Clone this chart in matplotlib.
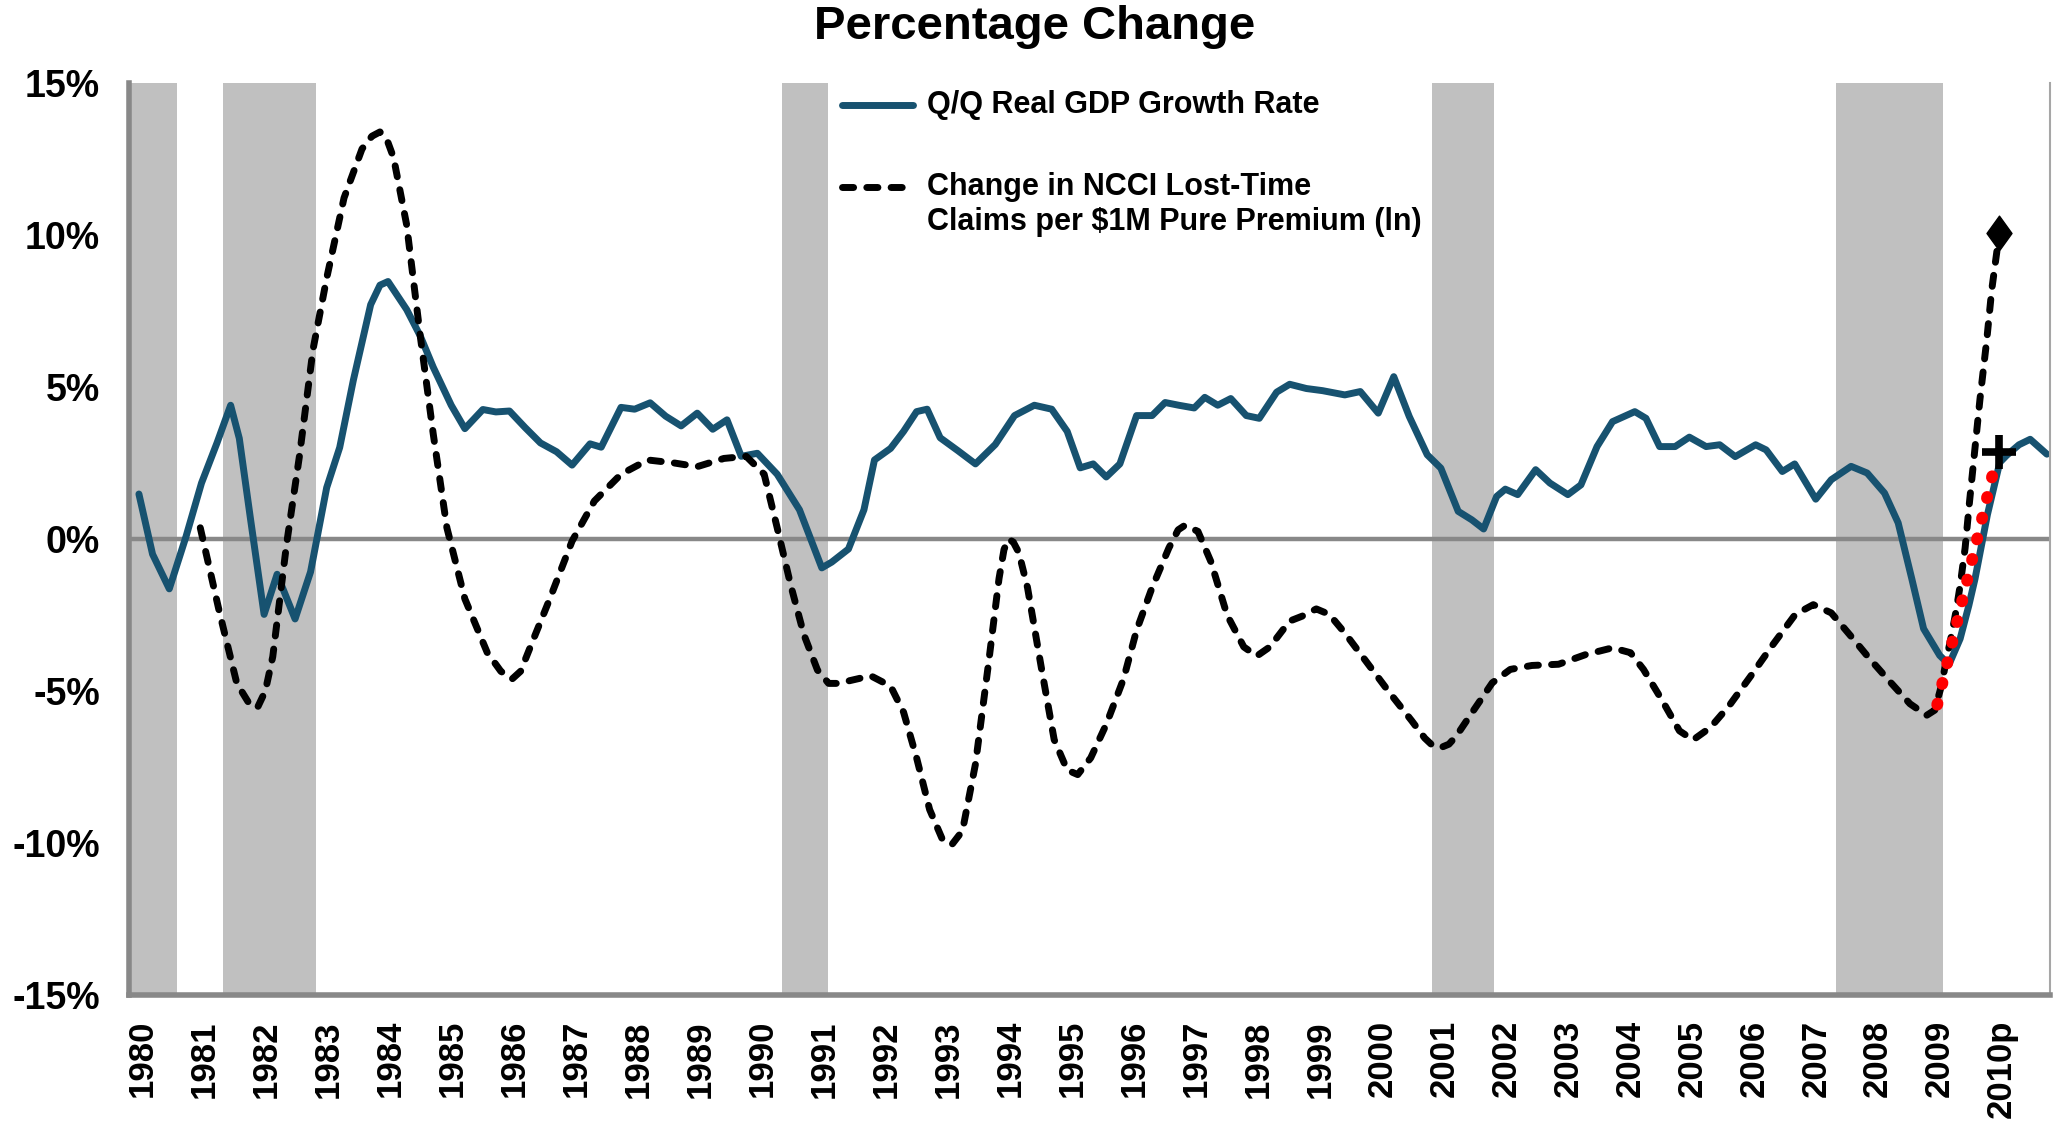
import numpy as np
import matplotlib
matplotlib.use("Agg")
import matplotlib.pyplot as plt
from matplotlib.path import Path

plt.rcParams['font.family'] = ['Liberation Sans', 'DejaVu Sans']
plt.rcParams['font.weight'] = 'bold'

# Q/Q real GDP growth (%)
gdp_x = [1980.16, 1980.38, 1980.65, 1980.92, 1981.17, 1981.42, 1981.64, 1981.78, 1981.96,
         1982.18, 1982.39, 1982.68, 1982.93, 1983.19, 1983.40, 1983.62, 1983.90, 1984.05, 1984.18,
         1984.48, 1984.70, 1984.91, 1985.20, 1985.42, 1985.71, 1985.92, 1986.14, 1986.39,
         1986.64, 1986.90, 1987.15, 1987.44, 1987.62, 1987.94, 1988.16, 1988.41, 1988.66,
         1988.91, 1989.17, 1989.42, 1989.65, 1989.88, 1990.14, 1990.46, 1990.82, 1991.04,
         1991.18, 1991.34, 1991.61, 1991.86, 1992.03, 1992.29, 1992.50, 1992.71, 1992.88,
         1993.09, 1993.38, 1993.66, 1993.98, 1994.29, 1994.61, 1994.89, 1995.14, 1995.35,
         1995.56, 1995.77, 1995.99, 1996.26, 1996.51, 1996.72, 1996.94, 1997.19, 1997.36,
         1997.57, 1997.78, 1998.03, 1998.24, 1998.52, 1998.73, 1999.00, 1999.26, 1999.62,
         1999.87, 2000.16, 2000.41, 2000.66, 2000.95, 2001.17, 2001.45, 2001.67, 2001.86,
         2002.07, 2002.21, 2002.41, 2002.70, 2002.93, 2003.22, 2003.43, 2003.69, 2003.94,
         2004.30, 2004.48, 2004.70, 2004.95, 2005.18, 2005.45, 2005.67, 2005.92, 2006.25,
         2006.42, 2006.68, 2006.88, 2007.22, 2007.47, 2007.79, 2008.05, 2008.33, 2008.55,
         2008.77, 2008.96, 2009.22, 2009.37, 2009.55, 2009.69, 2009.79, 2009.99, 2010.19,
         2010.30, 2010.50, 2010.68, 2010.95]
gdp_y = [1.48, -0.50, -1.64, 0.08, 1.84, 3.16, 4.40, 3.31, 0.67,
         -2.48, -1.16, -2.63, -1.08, 1.69, 3.01, 5.22, 7.71, 8.35, 8.47,
         7.55, 6.68, 5.65, 4.40, 3.63, 4.26, 4.18, 4.21, 3.67,
         3.16, 2.87, 2.43, 3.13, 3.02, 4.33, 4.27, 4.48, 4.04,
         3.72, 4.14, 3.61, 3.92, 2.72, 2.82, 2.13, 0.96, -0.21,
         -0.95, -0.76, -0.33, 0.96, 2.60, 2.98, 3.54, 4.19, 4.27,
         3.33, 2.90, 2.47, 3.11, 4.06, 4.40, 4.27, 3.54, 2.34,
         2.47, 2.04, 2.47, 4.06, 4.06, 4.49, 4.40, 4.31, 4.66,
         4.40, 4.62, 4.06, 3.97, 4.83, 5.09, 4.95, 4.88, 4.74,
         4.85, 4.14, 5.34, 4.03, 2.77, 2.33, 0.91, 0.63, 0.33,
         1.40, 1.64, 1.46, 2.28, 1.84, 1.46, 1.78, 3.04, 3.86,
         4.19, 3.97, 3.04, 3.04, 3.35, 3.04, 3.10, 2.71, 3.10,
         2.93, 2.22, 2.47, 1.31, 1.95, 2.39, 2.17, 1.51, 0.53,
         -1.31, -2.95, -3.83, -4.13, -3.28, -2.19, -1.31, 0.80, 2.52,
         2.75, 3.10, 3.28, 2.79]

# change in NCCI lost-time claims per $1M pure premium (%)
ncci_x = [1981.15, 1981.46, 1981.74, 1981.92, 1982.07, 1982.20, 1982.32, 1982.54, 1982.75,
          1982.97, 1983.19, 1983.47, 1983.76, 1983.92, 1984.05, 1984.16, 1984.27, 1984.48,
          1984.70, 1984.91, 1985.13, 1985.42, 1985.78, 1986.00, 1986.18, 1986.32, 1986.50,
          1986.79, 1987.15, 1987.51, 1987.94, 1988.37, 1988.80, 1989.17, 1989.60, 1989.96,
          1990.25, 1990.46, 1990.68, 1990.89, 1991.11, 1991.29, 1991.44, 1991.97, 1992.29,
          1992.50, 1992.71, 1992.92, 1993.13, 1993.28, 1993.45, 1993.66, 1993.87, 1994.04,
          1994.12, 1994.19, 1994.27, 1994.36, 1994.50, 1994.72, 1994.93, 1995.14, 1995.31,
          1995.52, 1995.77, 1996.05, 1996.26, 1996.51, 1996.78, 1996.93, 1997.04, 1997.25,
          1997.46, 1997.72, 1997.99, 1998.20, 1998.41, 1998.73, 1998.93, 1999.16, 1999.37,
          1999.62, 1999.98, 2000.34, 2000.70, 2000.91, 2001.05, 2001.17, 2001.30, 2001.42,
          2001.71, 2002.00, 2002.29, 2002.64, 2003.07, 2003.51, 2003.94, 2004.23, 2004.44,
          2004.73, 2005.02, 2005.24, 2005.52, 2005.82, 2006.17, 2006.53, 2006.89, 2007.18,
          2007.47, 2007.83, 2008.09, 2008.42, 2008.74, 2009.01, 2009.14, 2009.25, 2009.33,
          2009.41, 2009.49, 2009.55, 2009.63, 2009.70, 2009.79, 2009.87, 2009.98, 2010.06,
          2010.14, 2010.18]
ncci_y = [0.37, -2.41, -4.75, -5.35, -5.56, -5.00, -3.87, -0.21, 2.72,
          6.24, 8.58, 11.22, 12.83, 13.25, 13.39, 13.15, 12.54, 10.34,
          6.68, 3.45, 0.37, -1.97, -3.73, -4.35, -4.61, -4.35, -3.43,
          -1.97, -0.07, 1.25, 2.13, 2.60, 2.50, 2.38, 2.65, 2.72,
          2.13, 0.37, -1.53, -3.14, -4.31, -4.75, -4.75, -4.50, -4.84,
          -5.70, -7.20, -8.90, -9.90, -10.05, -9.60, -7.40, -4.10, -1.30,
          -0.35, 0.00, -0.10, -0.45, -1.60, -4.20, -6.60, -7.60, -7.75,
          -7.20, -6.10, -4.60, -3.00, -1.60, -0.30, 0.30, 0.45, 0.25,
          -0.75, -2.50, -3.55, -3.85, -3.55, -2.70, -2.54, -2.30, -2.48,
          -3.09, -4.07, -5.05, -5.98, -6.55, -6.82, -6.86, -6.75, -6.48,
          -5.60, -4.73, -4.29, -4.16, -4.12, -3.80, -3.58, -3.74, -4.29,
          -5.27, -6.31, -6.61, -6.20, -5.49, -4.51, -3.47, -2.48, -2.16,
          -2.43, -3.30, -3.94, -4.70, -5.42, -5.80, -5.63, -4.81, -3.94,
          -3.17, -2.30, -1.53, -0.30, 1.20, 3.00, 4.60, 6.56, 8.20,
          9.42, 10.07]

# red dotted trend 2009 -> 2010p
trend_x = [2009.18, 2010.14]
trend_y = [-5.45, 2.68]

# 2010p markers
gdp_2010p = (2010.18, 2.86)
ncci_2010p = (2010.18, 10.07)

# recession shading (start, end)
recessions = [(1980.0, 1980.78), (1981.52, 1983.02), (1990.53, 1991.28),
              (2001.03, 2002.02), (2007.55, 2009.28)]

years = list(range(1980, 2011))
year_labels = [str(y) for y in years[:-1]] + ['2010p']
y_ticks = [-15, -10, -5, 0, 5, 10, 15]
y_labels = ['-15%', '-10%', '-5%', '0%', '5%', '10%', '15%']

fig = plt.figure(figsize=(20.53, 11.24), dpi=100)
ax = fig.add_axes([129 / 2053, 1 - 995 / 1124, 1921 / 2053, 912 / 1124])

for a, b in recessions:
    ax.axvspan(a, b, color='#C0C0C0', lw=0, zorder=0)
ax.axhline(0, color='#888888', lw=3.2, zorder=1)

blue = '#175270'
lw = 5.0
dash = (0, (1.6, 1.9))
ax.plot(gdp_x, gdp_y, color=blue, lw=lw, solid_capstyle='round',
        solid_joinstyle='round', zorder=2)
ax.plot(ncci_x, ncci_y, color='black', lw=lw, linestyle=dash,
        dash_capstyle='round', dash_joinstyle='round', zorder=3)
ax.plot(trend_x, trend_y, color='#FF0000', lw=8.5, linestyle=(0, (0.1, 1.7)),
        dash_capstyle='round', zorder=4)

diamond = Path([(0, 1), (0.72, 0), (0, -1), (-0.72, 0), (0, 1)],
               [Path.MOVETO, Path.LINETO, Path.LINETO, Path.LINETO, Path.CLOSEPOLY])
ax.plot([ncci_2010p[0]], [ncci_2010p[1]], marker=diamond, ms=25, color='black',
        linestyle='none', zorder=5)
ax.plot([gdp_2010p[0]], [gdp_2010p[1]], marker='+', ms=25, mew=5.5, color='black',
        linestyle='none', zorder=5)

ax.set_xlim(1980, 2011)
ax.set_ylim(-15, 15)
ax.set_xticks([y + 0.22 for y in years])
ax.set_xticklabels(year_labels, rotation=90, fontsize=25, fontweight='bold')
ax.set_yticks(y_ticks)
ax.set_yticklabels(y_labels, fontsize=27, fontweight='bold')
ax.tick_params(axis='x', length=0, pad=18)
ax.tick_params(axis='y', length=0, pad=21)

ax.spines['top'].set_visible(False)
ax.spines['left'].set_color('#888888')
ax.spines['left'].set_linewidth(4)
ax.spines['bottom'].set_color('#888888')
ax.spines['bottom'].set_linewidth(4)
ax.spines['right'].set_color('#A6A6A6')
ax.spines['right'].set_linewidth(1.5)

# legend
ax.plot([0.371, 0.408], [0.976, 0.976], transform=ax.transAxes, color=blue, lw=lw,
        solid_capstyle='round', clip_on=False)
ax.plot([0.371, 0.408], [0.886, 0.886], transform=ax.transAxes, color='black', lw=lw,
        linestyle=dash, dash_capstyle='round', clip_on=False)
ax.text(0.4154, 0.976, 'Q/Q Real GDP Growth Rate', transform=ax.transAxes,
        fontsize=22, fontweight='bold', va='center', ha='left')
ax.text(0.4154, 0.886, 'Change in NCCI Lost-Time', transform=ax.transAxes,
        fontsize=22, fontweight='bold', va='center', ha='left')
ax.text(0.4154, 0.848, r'Claims per \$1M Pure Premium (ln)', transform=ax.transAxes,
        fontsize=22, fontweight='bold', va='center', ha='left')

fig.text(0.504, 0.976, 'Percentage Change', ha='center', va='center',
         fontsize=34, fontweight='bold')

fig.savefig('out.png', dpi=100)
